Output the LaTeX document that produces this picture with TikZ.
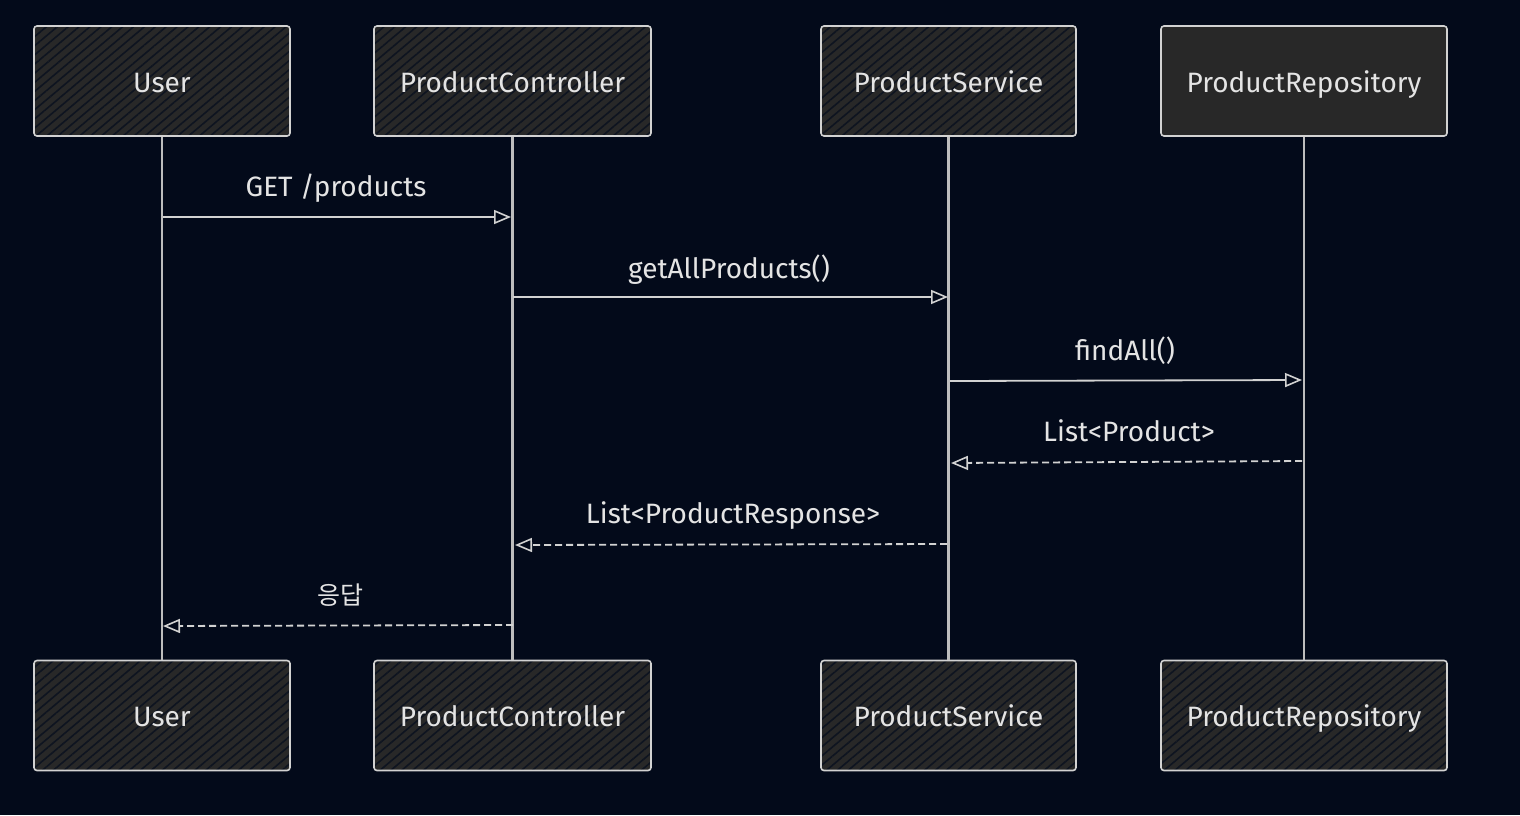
\documentclass[tikz,border=0pt]{standalone}
\usepackage{fontspec}
\setmainfont{Fira Sans}
\newfontfamily\krfont{Noto Sans CJK KR}
\usetikzlibrary{arrows.meta,patterns.meta}
\definecolor{bgc}{HTML}{030A1A}
\definecolor{boxfill}{HTML}{282828}
\definecolor{hatchc}{HTML}{0E1420}
\definecolor{linec}{HTML}{D2D2D2}
\definecolor{txtc}{HTML}{E4E4E4}
\tikzset{
  actor/.style={draw=linec, line width=1.6pt, rounded corners=3pt,
    preaction={fill=boxfill},
    pattern={Lines[angle=40,distance=7pt,line width=1.6pt]}, pattern color=hatchc,
    minimum height=110pt, text=txtc, font=\fontsize{28}{32}\selectfont, inner sep=0pt,
    text height=24pt, text depth=2pt},
  solidactor/.style={draw=linec, line width=1.6pt, rounded corners=3pt,
    fill=boxfill, minimum height=110pt, text=txtc,
    font=\fontsize{28}{32}\selectfont, inner sep=0pt,
    text height=24pt, text depth=2pt},
  lifeline/.style={draw=linec!90!black, line width=2.2pt},
  msg/.style={draw=linec, line width=1.8pt, -{Triangle[open,length=17pt,width=14pt,line width=1.6pt]}},
  ret/.style={msg, dash pattern=on 7pt off 4pt},
  lbl/.style={text=txtc, font=\fontsize{28}{32}\selectfont, inner sep=0pt,
    text height=24pt, text depth=2pt}
}
\begin{document}
\begin{tikzpicture}[x=1pt,y=-1pt]
\fill[bgc] (0,0) rectangle (1520,815);
\useasboundingbox (0,0) rectangle (1520,815);
% top actors
\node[actor, minimum width=256pt] (u1) at (162,81) {User};
\node[actor, minimum width=277pt] (c1) at (512.5,81) {ProductController};
\node[actor, minimum width=255pt] (s1) at (948.5,81) {ProductService};
\node[solidactor, minimum width=286pt] (r1) at (1304,81) {ProductRepository};
% bottom actors
\node[actor, minimum width=256pt] (u2) at (162,715.5) {User};
\node[actor, minimum width=277pt] (c2) at (512.5,715.5) {ProductController};
\node[actor, minimum width=255pt] (s2) at (948.5,715.5) {ProductService};
\node[actor, minimum width=286pt] (r2) at (1304,715.5) {ProductRepository};
% lifelines
\draw[lifeline] (u1.south) -- (u2.north);
\draw[lifeline] (c1.south) -- (c2.north);
\draw[lifeline] (s1.south) -- (s2.north);
\draw[lifeline] (r1.south) -- (r2.north);
% message anchor points
\coordinate (a1) at (163,217); \coordinate (b1) at (511,217);
\coordinate (a2) at (513,297); \coordinate (b2) at (948,297);
\coordinate (a3) at (950,381); \coordinate (b3) at (1302,380);
\coordinate (a4) at (1302,461); \coordinate (b4) at (951,463);
\coordinate (a5) at (947,544); \coordinate (b5) at (515,545);
\coordinate (a6) at (513,625); \coordinate (b6) at (163,626);
\draw[msg] (a1) -- (b1);
\draw[msg] (a2) -- (b2);
\draw[msg] (a3) -- (b3);
\draw[ret] (a4) -- (b4);
\draw[ret] (a5) -- (b5);
\draw[ret] (a6) -- (b6);
% labels
\node[lbl] (l1) at (336,185) {GET /products};
\node[lbl] (l2) at (729,267) {getAllProducts()};
\node[lbl] (l3) at (1125,349) {findAll()};
\node[lbl] (l4) at (1129,430) {List<Product>};
\node[lbl] (l5) at (733,512) {List<ProductResponse>};
\node[lbl, font=\krfont\fontsize{25}{30}\selectfont] (l6) at (340,593) {응답};
\end{tikzpicture}
\end{document}
